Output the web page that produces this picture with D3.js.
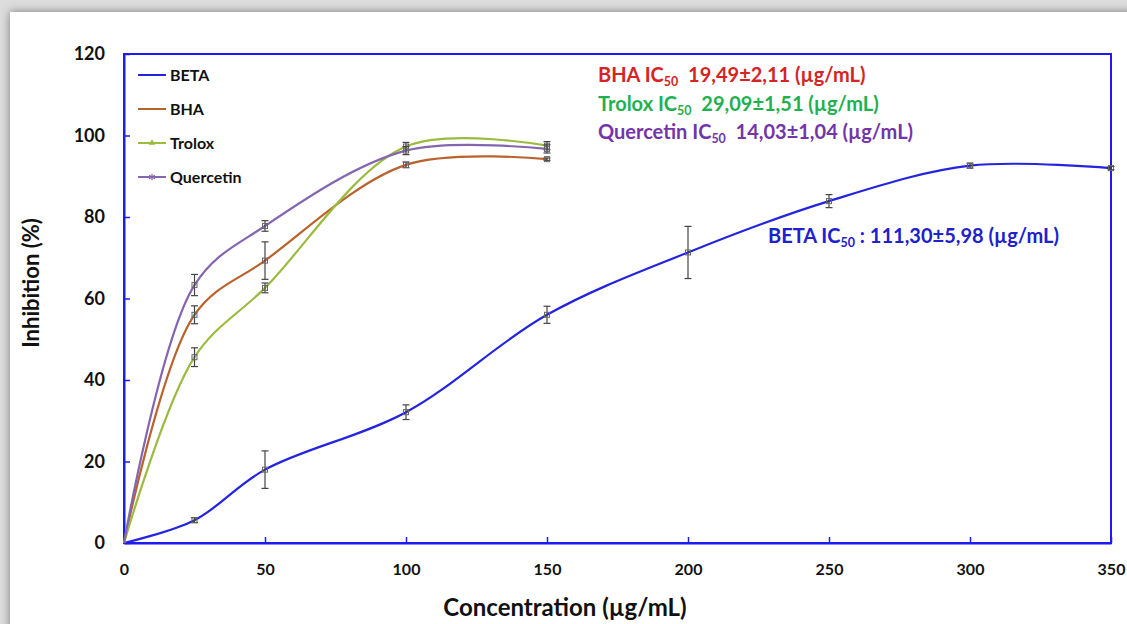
<!DOCTYPE html>
<html>
<head>
<meta charset="utf-8">
<script src="https://cdn.jsdelivr.net/npm/d3@7"></script>
<style>
  body { margin: 0; background: #d9d9d9; }
  svg { display: block; font-family: Lato, "Noto Sans", sans-serif; }
</style>
</head>
<body>
<svg id="chart" width="1127" height="624"></svg>
<script>
// Concentrations (µg/mL)
const betaX = [0, 25, 50, 100, 150, 200, 250, 300, 350];
const betaY = [0, 5.6, 18, 32.1, 56, 71.3, 83.9, 92.6, 92];
const betaErr = [0, 0.6, 4.6, 1.8, 2.1, 6.4, 1.6, 0.6, 0.4];

const stdX = [0, 25, 50, 100, 150];
const bhaY = [0, 56, 69.3, 92.8, 94.2];
const bhaErr = [0, 2.2, 4.6, 0.7, 0.3];
const troloxY = [0, 45.6, 62.6, 97.3, 97.5];
const troloxErr = [0, 2.3, 1.2, 1.0, 1.0];
const quercetinY = [0, 63.3, 77.8, 96.3, 96.7];
const quercetinErr = [0, 2.6, 1.3, 1.0, 1.0];

const xTicks = [0, 50, 100, 150, 200, 250, 300, 350];
const yTicks = [0, 20, 40, 60, 80, 100, 120];

const seriesNames = ["BETA", "BHA", "Trolox", "Quercetin"];
const seriesColors = ["#2424e0", "#b9622c", "#9bbb3f", "#8466b0"];

const annotations = [
  { name: "BHA", value: "19,49±2,11 (µg/mL)", color: "#d42424", sep: "  " },
  { name: "Trolox", value: "29,09±1,51 (µg/mL)", color: "#1fb050", sep: "  " },
  { name: "Quercetin", value: "14,03±1,04 (µg/mL)", color: "#7435a8", sep: "  " },
  { name: "BETA", value: ": 111,30±5,98 (µg/mL)", color: "#2020cc", sep: " " }
];

const svg = d3.select("#chart");
const W = 1127, H = 624;
const margin = { top: 54, right: 16, bottom: 81, left: 124 };
const width = W - margin.left - margin.right;
const height = H - margin.top - margin.bottom;

// page with shadowed card
const defs = svg.append("defs");
const f = defs.append("filter").attr("id", "shadow").attr("x", "-5%").attr("y", "-5%").attr("width", "110%").attr("height", "110%");
f.append("feDropShadow").attr("dx", 0).attr("dy", 0).attr("stdDeviation", 5).attr("flood-color", "#000").attr("flood-opacity", 0.45);
svg.append("rect").attr("width", W).attr("height", H).attr("fill", "#dcdcdc");
svg.append("rect").attr("x", 10).attr("y", 12).attr("width", W + 20).attr("height", H + 20)
   .attr("fill", "#ffffff").attr("filter", "url(#shadow)");

const g = svg.append("g").attr("transform", "translate(" + margin.left + "," + margin.top + ")");

const x = d3.scaleLinear().domain([0, 350]).range([0, width]);
const y = d3.scaleLinear().domain([0, 120]).range([height, 0]);

const axisColor = "#1c1cf0";

// frame
g.append("rect").attr("width", width).attr("height", height)
 .attr("fill", "none").attr("stroke", axisColor).attr("stroke-width", 2);

// axes
const yAxis = g.append("g").call(d3.axisLeft(y).tickValues(yTicks).tickSizeInner(-6).tickSizeOuter(0).tickPadding(19));
const xAxis = g.append("g").attr("transform", "translate(0," + height + ")")
  .call(d3.axisBottom(x).tickValues(xTicks).tickSizeInner(-6).tickSizeOuter(0).tickPadding(21));
[xAxis, yAxis].forEach(a => {
  a.select(".domain").attr("stroke", axisColor).attr("stroke-width", 2);
  a.selectAll(".tick line").attr("stroke", axisColor).attr("stroke-width", 1.5);
  a.selectAll(".tick text").attr("fill", "#111").attr("font-weight", "bold").attr("font-family", "Lato, sans-serif");
});
yAxis.selectAll(".tick text").attr("font-size", 18);
xAxis.selectAll(".tick text").attr("font-size", 16);

// axis titles
svg.append("text").attr("x", 565).attr("y", 616).attr("text-anchor", "middle")
   .attr("font-size", 24).attr("font-weight", "bold").attr("fill", "#111")
   .text("Concentration (µg/mL)");
svg.append("text").attr("transform", "translate(39,283) rotate(-90)").attr("text-anchor", "middle")
   .attr("font-size", 22).attr("font-weight", "bold").attr("fill", "#111")
   .text("Inhibition (%)");

// series
const series = [
  { xs: betaX, ys: betaY, err: betaErr },
  { xs: stdX, ys: bhaY, err: bhaErr },
  { xs: stdX, ys: troloxY, err: troloxErr },
  { xs: stdX, ys: quercetinY, err: quercetinErr }
];

const line = d3.line().x(d => x(d[0])).y(d => y(d[1])).curve(d3.curveCatmullRom.alpha(0.5));

series.forEach((s, i) => {
  const pts = s.xs.map((v, j) => [v, s.ys[j], s.err[j]]);
  g.append("path").datum(pts).attr("d", line)
   .attr("fill", "none").attr("stroke", seriesColors[i]).attr("stroke-width", 2.2);
  const eb = g.append("g").attr("stroke", "#444").attr("stroke-width", 1.2);
  pts.filter(p => p[2] > 0).forEach(p => {
    const cx = x(p[0]);
    eb.append("line").attr("x1", cx).attr("x2", cx).attr("y1", y(p[1] - p[2])).attr("y2", y(p[1] + p[2]));
    eb.append("line").attr("x1", cx - 3.5).attr("x2", cx + 3.5).attr("y1", y(p[1] - p[2])).attr("y2", y(p[1] - p[2]));
    eb.append("line").attr("x1", cx - 3.5).attr("x2", cx + 3.5).attr("y1", y(p[1] + p[2])).attr("y2", y(p[1] + p[2]));
    eb.append("rect").attr("x", cx - 2.5).attr("y", y(p[1]) - 2.5).attr("width", 5).attr("height", 5)
      .attr("fill", "none").attr("stroke", "#666").attr("stroke-width", 1);
  });
});

// legend
const legend = g.append("g").attr("transform", "translate(14,21)");
seriesNames.forEach((name, i) => {
  const row = legend.append("g").attr("transform", "translate(0," + (i * 34) + ")");
  row.append("line").attr("x1", 0).attr("x2", 28).attr("stroke", seriesColors[i]).attr("stroke-width", 2);
  if (name === "Trolox") {
    row.append("path").attr("d", d3.symbol(d3.symbolTriangle, 18)()).attr("transform", "translate(14,0)")
       .attr("fill", seriesColors[i]);
  }
  if (name === "Quercetin") {
    row.append("path").attr("d", d3.symbol(d3.symbolAsterisk, 30)()).attr("transform", "translate(14,0)")
       .attr("fill", "none").attr("stroke", seriesColors[i]).attr("stroke-width", 1.2);
  }
  row.append("text").attr("x", 32).attr("y", 5.5).attr("font-size", 16).attr("font-weight", "bold")
     .attr("fill", "#111").text(name);
});

// IC50 annotations
const annPos = [[598, 82], [598, 111], [598, 139], [768, 243]];
annotations.forEach((a, i) => {
  const t = svg.append("text").attr("x", annPos[i][0]).attr("y", annPos[i][1])
    .attr("font-size", 20).attr("font-weight", "bold").attr("fill", a.color)
    .attr("xml:space", "preserve");
  t.append("tspan").text(a.name + " IC");
  t.append("tspan").attr("font-size", 12.5).attr("dy", 4).text("50");
  t.append("tspan").attr("dy", -4).text(a.sep + a.value);
});
</script>
</body>
</html>
